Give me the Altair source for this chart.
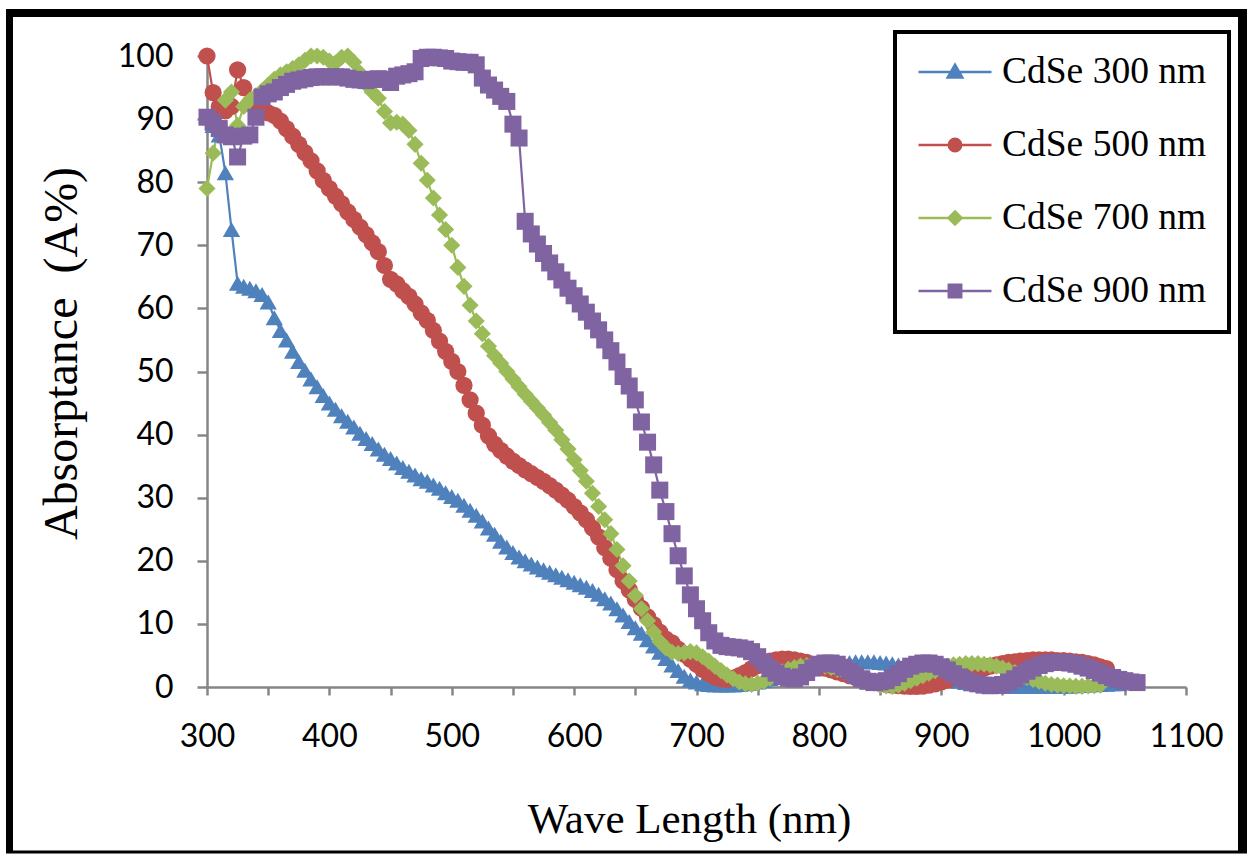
import altair as alt
import pandas as pd

# ---------------- data ----------------
SERIES = ["CdSe 300 nm", "CdSe 500 nm", "CdSe 700 nm", "CdSe 900 nm"]
COLORS = ["#4F81BD", "#C0504D", "#9BBB59", "#8064A2"]

# spectrometer sampling grid (nm), 5 nm step
WAVELENGTH = list(range(300, 1065, 5))

CDSE_300 = [
    90.5, 89, 87.5, 81.5, 72.5, 64, 63.5, 63.2, 62.8, 62.2,          # 300-345
    61, 58.5, 56.5, 55, 53.2, 51.6, 50.2, 48.8, 47.6, 46.2,          # 350-395
    45, 44, 43, 42.1, 41.2, 40.2, 39.4, 38.6, 37.7, 36.9,            # 400-445
    36.2, 35.5, 34.8, 34.2, 33.6, 33, 32.6, 32, 31.5, 30.8,          # 450-495
    30.2, 29.6, 28.8, 28, 27.2, 26.3, 25.2, 24.2, 23.1, 22.2,        # 500-545
    21.3, 20.6, 20, 19.5, 19, 18.6, 18.2, 17.8, 17.4, 17,            # 550-595
    16.6, 16.2, 15.8, 15.3, 14.7, 14, 13.3, 12.4, 11.4, 10.4,        # 600-645
    9.4, 8.5, 7.5, 6.5, 5.5, 4.5, 3.5, 2.6, 1.7, 1.1,                # 650-695
    0.8, 0.5, 0.4, 0.3, 0.3, 0.3, 0.3, 0.4, 0.5, 0.6,                # 700-745
    0.8, 1, 1.3, 1.5, 1.8, 2, 2.3, 2.6, 2.8, 3,                      # 750-795
    3.2, 3.4, 3.5, 3.7, 3.8, 3.9, 4, 4, 4, 4,                        # 800-845
    3.9, 3.8, 3.7, 3.5, 3.3, 3.1, 2.8, 2.5, 2.2, 1.9,                # 850-895
    1.6, 1.3, 1.1, 0.9, 0.7, 0.5, 0.4, 0.3, 0.2, 0.15,               # 900-945
    0.1, 0.1, 0.1, 0.1, 0.1, 0.1, 0.1, 0.1, 0.1, 0.1,                # 950-995
    0.1, 0.1, 0.2, 0.25, 0.3, 0.35, 0.4, 0.45, 0.5, 0.5,             # 1000-1045
]

CDSE_500 = [
    100, 94.2, 92, 91.3, 92, 97.8, 95, 92.5, 91.7, 91.2,             # 300-345
    91, 90.6, 89.7, 88.5, 87.3, 86, 84.7, 83.4, 81.8, 80.3,          # 350-395
    79, 77.8, 76.6, 75.3, 74.1, 72.9, 71.7, 70.4, 69, 66.8,          # 400-445
    64.6, 63.9, 62.8, 61.9, 60.7, 59.3, 58.1, 56.5, 54.8, 53.2,      # 450-495
    51.6, 50, 47.8, 45.5, 43.4, 41.5, 39.8, 38.5, 37.5, 36.6,        # 500-545
    35.8, 35.1, 34.4, 33.8, 33.2, 32.6, 31.9, 31.2, 30.4, 29.6,      # 550-595
    28.6, 27.6, 26.5, 25.2, 23.8, 22.1, 20.4, 18.6, 16.8, 15.4,      # 600-645
    13.9, 12.5, 11.1, 9.9, 8.7, 7.6, 7, 6, 5.2, 4.4,                 # 650-695
    3.6, 2.8, 2.1, 1.6, 1.3, 1.2, 1.4, 1.8, 2.3, 2.9,                # 700-745
    3.4, 3.8, 4.1, 4.3, 4.4, 4.4, 4.3, 4.1, 3.9, 3.6,                # 750-795
    3.3, 3, 2.7, 2.4, 2.1, 1.8, 1.5, 1.2, 1, 0.8,                    # 800-845
    0.6, 0.4, 0.3, 0.2, 0.15, 0.1, 0.1, 0.15, 0.3, 0.5,              # 850-895
    0.8, 1.1, 1.5, 1.8, 2.1, 2.4, 2.7, 3, 3.3, 3.5,                  # 900-945
    3.7, 3.9, 4, 4.1, 4.2, 4.3, 4.3, 4.3, 4.3, 4.2,                  # 950-995
    4.2, 4.1, 4, 3.9, 3.7, 3.5, 3.2, 2.9,                            # 1000-1035
]

CDSE_700 = [
    79, 84.6, 89, 93, 94.3, 89, 92, 93, 93.7, 94.5,                  # 300-345
    95.4, 96.3, 97, 97.5, 98, 98.6, 99.3, 100, 100, 99.8,            # 350-395
    99.2, 98.9, 99.8, 100, 99, 97.3, 95.5, 94.3, 93.3, 91.2,         # 400-445
    89.4, 89.5, 89.2, 88.2, 86, 83, 80.3, 77.5, 74.8, 72.5,          # 450-495
    70, 66.5, 63.5, 60.5, 58, 56, 54, 52.5, 51.3, 50,                # 500-545
    48.8, 47.6, 46.4, 45.3, 44.2, 43.1, 41.9, 40.7, 39.2, 37.7,      # 550-595
    36, 34.3, 32.6, 30.7, 28.6, 26.5, 24.3, 21.8, 19.2, 16.8,        # 600-645
    14.5, 12.4, 10.5, 8.7, 7.2, 6.2, 5.5, 5.3, 5.4, 5.6,             # 650-695
    5.4, 4.8, 4.1, 3.3, 2.6, 1.9, 1.3, 0.8, 0.5, 0.4,                # 700-745
    0.6, 0.9, 1.4, 1.9, 2.4, 2.8, 3.1, 3.3, 3.4, 3.4,                # 750-795
    3.4, 3.3, 3.1, 2.8, 2.5, 2.1, 1.7, 1.3, 0.9, 0.6,                # 800-845
    0.3, 0.15, 0.1, 0.3, 0.6, 1, 1.4, 1.8, 2.2, 2.6,                 # 850-895
    3, 3.3, 3.5, 3.6, 3.7, 3.7, 3.7, 3.6, 3.5, 3.3,                  # 900-945
    3, 2.7, 2.3, 1.9, 1.5, 1.2, 0.9, 0.6, 0.4, 0.3,                  # 950-995
    0.2, 0.15, 0.1, 0.1, 0.15, 0.2, 0.3,                             # 1000-1030
]

CDSE_900 = [
    90.3, 89.5, 88.5, 87.5, 87.2, 84, 87.3, 87.5, 90.3, 93.5,        # 300-345
    94, 94.3, 95, 95.5, 96, 96.2, 96.4, 96.6, 96.7, 96.7,            # 350-395
    96.7, 96.7, 96.7, 96.5, 96.3, 96.2, 96.1, 96.3, 96.4, 96.3,      # 400-445
    95.8, 96.8, 97, 97.2, 97.5, 99.6, 99.8, 99.8, 99.7, 99.6,        # 450-495
    99.2, 99.1, 99, 99, 98.6, 96.5, 95.4, 94.6, 93.6, 92.8,          # 500-545
    89.2, 87, 73.8, 71.8, 70.2, 68.7, 67.2, 65.8, 64.5, 63.2,        # 550-595
    62, 60.7, 59.4, 58, 56.6, 55, 53.3, 51.5, 49.2, 47.7,            # 600-645
    45.5, 42, 38.8, 35.2, 31.2, 27.8, 24.3, 20.8, 17.6, 14.6,        # 650-695
    12.4, 10.5, 8.6, 7.3, 6.6, 6.4, 6.3, 6.2, 6, 5.6,                # 700-745
    4.8, 3.9, 2.9, 2.2, 1.7, 1.4, 1.3, 1.6, 2.3, 3,                  # 750-795
    3.6, 3.8, 3.8, 3.6, 3.1, 2.5, 1.8, 1.3, 0.9, 0.7,                # 800-845
    0.8, 1, 1.5, 2.1, 2.8, 3.3, 3.6, 3.8, 3.8, 3.6,                  # 850-895
    3.2, 2.7, 2.1, 1.6, 1.1, 0.7, 0.5, 0.3, 0.2, 0.25,               # 900-945
    0.4, 0.8, 1.3, 1.9, 2.5, 3, 3.4, 3.7, 3.9, 3.9,                  # 950-995
    3.9, 3.8, 3.6, 3.3, 3, 2.6, 2.2, 1.8, 1.5, 1.2,                  # 1000-1045
    1, 0.8, 0.7,                                                     # 1050-1060
]

X_TICKS = list(range(300, 1150, 50))
Y_TICKS = list(range(0, 110, 10))

# ---------------- table ----------------
rows = []
for name, vals in zip(SERIES, [CDSE_300, CDSE_500, CDSE_700, CDSE_900]):
    for wl, v in zip(WAVELENGTH, vals):
        rows.append({"wl": wl, "A": v, "series": name})
df = pd.DataFrame(rows)

MARKERS = ["triangle-up", "circle", "diamond", "square"]
MARKER_SIZES = [300, 290, 250, 245]
LEGEND_PATHS = [
    "M-1,0H1M0,-0.2L0.2,0.15L-0.2,0.15Z",
    "M-1,0H1M0.17,0A0.17,0.17,0,1,1,-0.17,0A0.17,0.17,0,1,1,0.17,0Z",
    "M-1,0H1M0,-0.18L0.18,0L0,0.18L-0.18,0Z",
    "M-1,0H1M-0.17,-0.17H0.17V0.17H-0.17Z",
]

W, H = 979, 631
PAD = {"left": 207, "top": 56, "right": 67, "bottom": 167}
AXIS_GREY = "#868686"

x_enc = alt.X(
    "wl:Q",
    scale=alt.Scale(domain=[300, 1100], nice=False, zero=False),
    axis=alt.Axis(
        values=X_TICKS,
        format="d",
        labelExpr="datum.value % 100 == 0 ? datum.label : ''",
        title="Wave Length (nm)",
        titleFont="Liberation Serif",
        titleFontSize=43,
        titleFontWeight="normal",
        titleColor="black",
        titleX=482,
        titleY=145,
        titleBaseline="alphabetic",
        labelFont="Lato",
        labelFontSize=32,
        labelColor="black",
        labelPadding=26,
        tickSize=8,
        tickWidth=2.5,
        tickColor=AXIS_GREY,
        domainColor=AXIS_GREY,
        domainWidth=2.5,
        grid=False,
        labelFlush=False,
        labelOverlap=False,
    ),
)
y_enc = alt.Y(
    "A:Q",
    scale=alt.Scale(domain=[0, 100], nice=False),
    axis=alt.Axis(
        values=Y_TICKS,
        title="Absorptance\u00a0\u00a0(A%)",
        titleFont="Liberation Serif",
        titleFontSize=48,
        titleFontWeight="normal",
        titleColor="black",
        titleAngle=270,
        titleX=-131,
        titleY=297,
        titleAlign="center",
        titleBaseline="alphabetic",
        labelFont="Lato",
        labelFontSize=32,
        labelColor="black",
        labelPadding=24,
        tickSize=10,
        tickWidth=2.5,
        tickColor=AXIS_GREY,
        domainColor=AXIS_GREY,
        domainWidth=2.5,
        grid=False,
        labelFlush=False,
        labelOverlap=False,
    ),
)

color_scale = alt.Scale(domain=SERIES, range=COLORS)

lines = alt.Chart(df).mark_line(strokeWidth=2.2).encode(
    x=x_enc,
    y=y_enc,
    color=alt.Color("series:N", scale=color_scale, legend=None),
    detail="series:N",
)

points = alt.Chart(df).mark_point(filled=True, opacity=1).encode(
    x=alt.X("wl:Q"),
    y=alt.Y("A:Q"),
    color=alt.Color("series:N", scale=color_scale, legend=None),
    shape=alt.Shape("series:N", scale=alt.Scale(domain=SERIES, range=MARKERS), legend=None),
    size=alt.Size("series:N", scale=alt.Scale(domain=SERIES, range=MARKER_SIZES), legend=None),
)

legend_def = alt.Legend(
    orient="none",
    legendX=688,
    legendY=-24,
    direction="vertical",
    title=None,
    labelFont="Liberation Serif",
    labelFontSize=37.5,
    labelColor="black",
    labelLimit=0,
    labelOffset=9,
    symbolSize=5329,
    symbolStrokeWidth=2.5,
    symbolOpacity=1,
    padding=22,
    rowPadding=35,
    clipHeight=36,
    strokeColor="black",
    fillColor="white",
    cornerRadius=0,
)

legend_layer = alt.Chart(df).transform_filter("datum.wl < 0").mark_point(
    filled=True, opacity=1
).encode(
    x=alt.X("wl:Q"),
    y=alt.Y("A:Q"),
    fill=alt.Fill("series:N", scale=alt.Scale(domain=SERIES, range=COLORS), legend=legend_def),
    stroke=alt.Stroke("series:N", scale=alt.Scale(domain=SERIES, range=COLORS), legend=legend_def),
    shape=alt.Shape("series:N", scale=alt.Scale(domain=SERIES, range=LEGEND_PATHS), legend=legend_def),
)

# page frame (decoration around the whole figure)
frame_df = pd.DataFrame({"k": [0]})
frame_base = alt.Chart(frame_df)
frame_left = frame_base.mark_rule(color="black", strokeWidth=7).encode(
    x=alt.value(-197.5), y=alt.value(-47), y2=alt.value(797))
frame_top = frame_base.mark_rule(color="black", strokeWidth=8).encode(
    y=alt.value(-43), x=alt.value(-201), x2=alt.value(1040))
frame_right = frame_base.mark_rule(color="black", strokeWidth=9).encode(
    x=alt.value(1035.5), y=alt.value(-47), y2=alt.value(797))
frame_bottom = frame_base.mark_rule(color="black", strokeWidth=3).encode(
    y=alt.value(796), x=alt.value(-201), x2=alt.value(1040))

chart = alt.layer(
    lines, points, legend_layer, frame_left, frame_top, frame_right, frame_bottom
).resolve_scale(
    shape="independent", fill="independent", stroke="independent"
).properties(
    width=W, height=H,
    autosize=alt.AutoSizeParams(type="none"),
    padding=PAD,
    background="white",
).configure_view(stroke=None).configure_legend(strokeWidth=4)

chart.save("out.html", embed_options={"renderer": "svg", "actions": False})
